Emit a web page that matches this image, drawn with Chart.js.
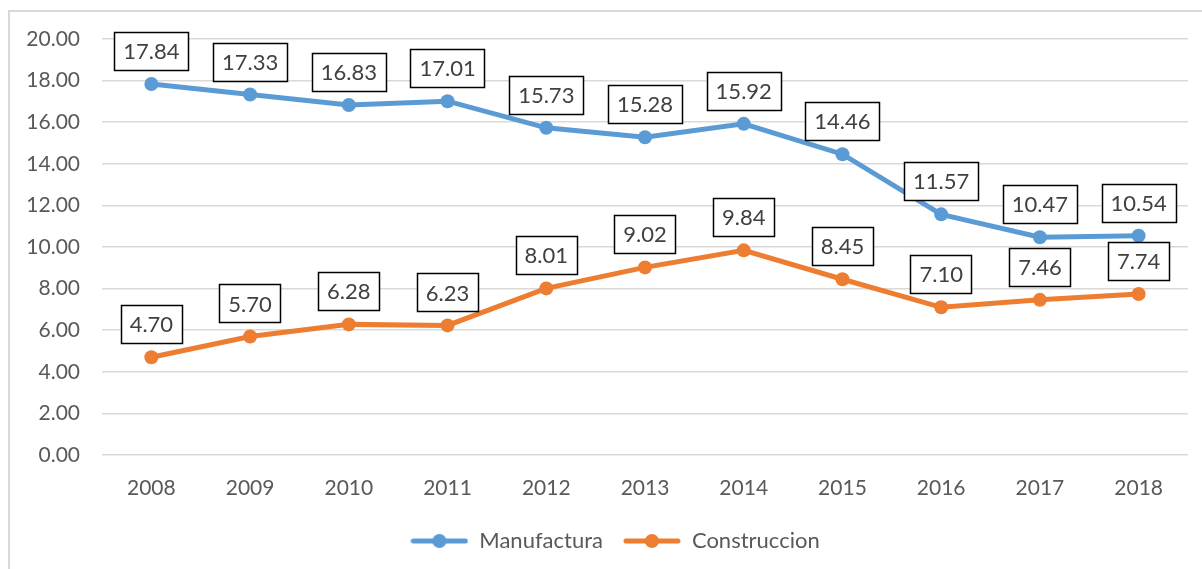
<!DOCTYPE html>
<html lang="es">
<head>
    <meta charset="utf-8">
    <title>Manufactura y Construccion</title>
    <script src="https://cdn.jsdelivr.net/npm/chart.js@4.4.1/dist/chart.umd.min.js"></script>
    <style>
        html, body { margin: 0; padding: 0; background: #fff; }
        #wrap { width: 1202px; height: 569px; }
    </style>
</head>
<body>
<div id="wrap"><canvas id="lineChart" width="1202" height="569"></canvas></div>
<script>
var years = ["2008", "2009", "2010", "2011", "2012", "2013", "2014", "2015", "2016", "2017", "2018"];
var manufactura = [17.84, 17.33, 16.83, 17.01, 15.73, 15.28, 15.92, 14.46, 11.57, 10.47, 10.54];
var construccion = [4.70, 5.70, 6.28, 6.23, 8.01, 9.02, 9.84, 8.45, 7.10, 7.46, 7.74];
var seriesNames = ["Manufactura", "Construccion"];

var blue = "#5b9bd5";
var orange = "#ed7d31";
var fontFamily = "Lato, 'Open Sans', sans-serif";

// legend marker: short line with a dot in the middle
function legendMarker(color) {
    var c = document.createElement("canvas");
    c.width = 58;
    c.height = 16;
    var g = c.getContext("2d");
    g.strokeStyle = color;
    g.lineWidth = 5;
    g.lineCap = "round";
    g.beginPath();
    g.moveTo(3, 8);
    g.lineTo(55, 8);
    g.stroke();
    g.fillStyle = color;
    g.beginPath();
    g.arc(29, 8, 7, 0, Math.PI * 2);
    g.fill();
    return c;
}
var markers = [legendMarker(blue), legendMarker(orange)];

// outer light border of the chart object, and nudge the legend right a bit
var frame = {
    id: "frame",
    afterLayout: function(chart) {
        if (chart.legend) {
            chart.legend.left += 21;
            chart.legend.right += 21;
        }
    },
    beforeDraw: function(chart) {
        var ctx = chart.ctx;
        ctx.save();
        ctx.strokeStyle = "#d9d9d9";
        ctx.lineWidth = 2;
        ctx.strokeRect(9, 11, 1210, 580);
        ctx.restore();
    }
};

// boxed value labels above each point
var boxLabels = {
    id: "boxLabels",
    afterDatasetsDraw: function(chart) {
        var ctx = chart.ctx;
        ctx.save();
        ctx.font = "22px " + fontFamily;
        ctx.textAlign = "center";
        ctx.textBaseline = "middle";
        chart.data.datasets.forEach(function(ds, di) {
            var meta = chart.getDatasetMeta(di);
            meta.data.forEach(function(pt, i) {
                var txt = ds.data[i].toFixed(2);
                var w = ctx.measureText(txt).width + 18;
                var h = 38;
                var cx = pt.x;
                var cy = pt.y - 33;
                ctx.fillStyle = "#fff";
                ctx.fillRect(cx - w / 2, cy - h / 2, w, h);
                ctx.strokeStyle = "#000";
                ctx.lineWidth = 1.5;
                ctx.strokeRect(Math.round(cx - w / 2) + 0.5, Math.round(cy - h / 2) + 0.5, Math.round(w), h);
                ctx.fillStyle = "#404040";
                ctx.fillText(txt, cx, cy + 1);
            });
        });
        ctx.restore();
    }
};

var ctx = document.getElementById("lineChart").getContext("2d");
var chart = new Chart(ctx, {
    type: "line",
    data: {
        labels: years,
        datasets: [{
            label: seriesNames[0],
            data: manufactura,
            borderColor: blue,
            backgroundColor: blue,
            borderWidth: 5,
            pointRadius: 7,
            pointHoverRadius: 7,
            pointBorderWidth: 0,
            tension: 0
        }, {
            label: seriesNames[1],
            data: construccion,
            borderColor: orange,
            backgroundColor: orange,
            borderWidth: 5,
            pointRadius: 7,
            pointHoverRadius: 7,
            pointBorderWidth: 0,
            tension: 0
        }]
    },
    options: {
        responsive: false,
        animation: false,
        devicePixelRatio: 1,
        layout: {
            padding: { left: 0, top: 39, right: 14, bottom: 7 }
        },
        scales: {
            x: {
                offset: true,
                grid: { display: false },
                border: { display: false },
                ticks: {
                    color: "#595959",
                    font: { family: fontFamily, size: 21 },
                    padding: 13
                },
                afterFit: function(scale) { scale.height = 55; }
            },
            y: {
                min: 0,
                max: 20,
                grid: { color: "#d9d9d9", lineWidth: 1.5, drawTicks: false },
                border: { display: false },
                ticks: {
                    stepSize: 2,
                    color: "#595959",
                    font: { family: fontFamily, size: 21 },
                    padding: 22,
                    callback: function(v) { return v.toFixed(2); }
                },
                afterFit: function(scale) { scale.width = 102; }
            }
        },
        plugins: {
            tooltip: { enabled: false },
            legend: {
                position: "bottom",
                labels: {
                    color: "#595959",
                    font: { family: fontFamily, size: 22 },
                    usePointStyle: true,
                    pointStyleWidth: 58,
                    padding: 20,
                    generateLabels: function(chart) {
                        var items = Chart.defaults.plugins.legend.labels.generateLabels(chart);
                        items.forEach(function(it, i) { it.pointStyle = markers[i]; });
                        return items;
                    }
                }
            }
        }
    },
    plugins: [frame, boxLabels]
});
</script>
</body>
</html>
